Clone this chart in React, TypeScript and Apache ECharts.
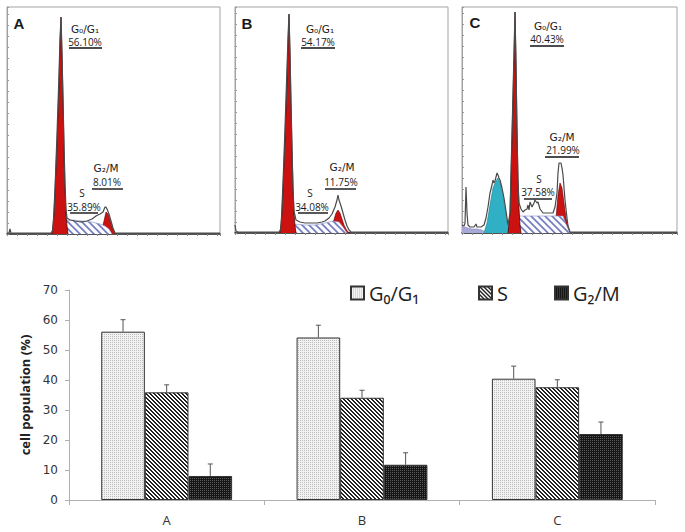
import React, { useEffect, useRef } from "react";
import * as echarts from "echarts";

// ---------- bar chart data ----------
const groups = ["A", "B", "C"];
const phases = ["G₀/G₁", "S", "G₂/M"];
const g1Pct = [56.1, 54.17, 40.43];
const sPct = [35.89, 34.08, 37.58];
const g2mPct = [8.01, 11.75, 21.99];
const g1Err = [4.0, 4.1, 4.2];
const sErr = [2.5, 2.5, 2.5];
const g2mErr = [4.0, 4.0, 4.0];
const yMin = 0;
const yMax = 70;
const yStep = 10;
const yTitle = "cell population (%)";

// ---------- histogram data: [channel, count] ----------
const aTotal = [[0,1],[2,1],[3,5],[4,1],[44,1],[46,4],[48,45],[50,100],[52,160],[53,195],[54,217],[55,180],[56,135],[57,90],[58,50],[59,25],[60,16],[63,14],[68,13],[74,12],[80,13],[85,15],[89,18],[93,20],[96,22],[98,27],[99,27],[100,25],[102,20],[104,13],[106,6],[108,1],[130,1],[213,1]];
const aG1 = [[45,0],[47,20],[50,90],[52,150],[53,190],[54,217],[55,180],[56,135],[57,85],[58,45],[59,20],[60,8],[61,0]];
const aS = [[51,0],[54,10],[57,14],[65,14],[75,13],[85,12],[93,10],[98,8],[102,5],[105,0]];
const aG2 = [[92,0],[95,5],[97,13],[99,22],[101,20],[103,14],[105,7],[107,2],[108,0]];

const bTotal = [[0,8],[1,2],[3,1],[44,1],[46,4],[48,50],[50,105],[52,165],[53,195],[54,219],[55,180],[56,130],[57,85],[58,45],[59,22],[61,13],[65,11],[70,10],[76,10],[82,10],[87,11],[90,12],[94,15],[97,19],[100,26],[102,33],[103,38],[104,33],[106,27],[108,20],[110,13],[112,7],[114,3],[116,1],[130,1],[213,1]];
const bG1 = [[45,0],[47,20],[50,95],[52,155],[53,190],[54,219],[55,180],[56,130],[57,85],[58,45],[59,20],[60,7],[61,0]];
const bS = [[51,0],[54,7],[58,9],[70,8],[80,8],[90,10],[98,12],[104,11],[108,6],[112,0]];
const bG2 = [[95,0],[98,10],[101,20],[103,23],[105,20],[107,14],[109,8],[111,4],[113,1],[115,0]];

const cTotal = [[0,8],[2,7],[3,10],[4,46],[5,20],[6,8],[8,6],[12,6],[14,9],[15,6],[19,6],[22,8],[24,15],[26,26],[28,40],[30,48],[31,53],[32,50],[33,52],[34,56],[35,60],[36,58],[37,55],[38,53],[40,45],[42,35],[44,22],[46,8],[48,20],[50,100],[52,180],[53,221],[54,170],[55,100],[56,50],[57,30],[59,24],[61,21],[63,23],[65,24],[66,28],[67,23],[68,31],[70,26],[72,30],[73,33],[75,30],[76,31],[78,24],[81,20],[86,20],[91,20],[93,26],[95,40],[96,60],[97,70],[99,70],[100,65],[101,58],[103,33],[105,15],[106,7],[108,1],[130,1],[215,1]];
const cG1 = [[46,0],[48,20],[50,95],[52,175],[53,221],[54,170],[55,105],[56,55],[57,25],[58,8],[59,0]];
const cS = [[48,0],[51,9],[55,17],[101,17],[104,9],[108,0]];
const cG2 = [[92,0],[94,15],[96,38],[98,50],[100,45],[102,30],[104,15],[106,6],[108,0]];
const cApop = [[22,0],[25,10],[28,28],[31,45],[34,52],[36,55],[38,50],[41,38],[43,25],[45,12],[47,4],[48,0]];
const cDebris = [[0,6],[3,6],[6,5],[10,4],[15,4],[20,3],[23,1],[25,0]];

// ---------- layout (styles) ----------
const panels = [
  { left: 7, top: 7, w: 213, h: 227, xMax: 213, yMax: 227, label: "A", lx: 19, ly: 23 },
  { left: 235, top: 7, w: 213, h: 226, xMax: 213, yMax: 226, label: "B", lx: 247, ly: 23 },
  { left: 462, top: 7, w: 215, h: 226, xMax: 215, yMax: 226, label: "C", lx: 475, ly: 22 },
];
// [titleX, titleY, pctX, pctY, underlineY, ux1, ux2]
const annG1 = [[85,29,85,41.5,48,69,102],[320,29,318,41.5,48,301,335],[548,26,547,39,46,530,564]];
const annG2 = [[106,168,107,181.5,189,92,123],[342,167,341,181.5,189,325,356],[562,137,563,150,157,545,579]];
const annS = [[82,193,84,207,213,70,98],[310,193,312,207,213,298,328],[539,178.5,538,192,199,524,552]];

function tile(w: number, h: number, draw: (ctx: CanvasRenderingContext2D) => void) {
  const c = document.createElement("canvas");
  c.width = w;
  c.height = h;
  const ctx = c.getContext("2d")!;
  draw(ctx);
  return { image: c, repeat: "repeat", imageWidth: w, imageHeight: h } as any;
}

export default function App() {
  const ref = useRef<HTMLDivElement>(null);
  useEffect(() => {
    if (!ref.current) return;
    const chart = echarts.init(ref.current, null, { renderer: "svg" });

    const lightDots = tile(2, 2, (ctx) => {
      ctx.fillStyle = "#f2f2f2"; ctx.fillRect(0, 0, 2, 2);
      ctx.fillStyle = "#bdbdbd"; ctx.fillRect(0, 0, 1, 1);
    });
    const stripes = tile(4, 4, (ctx) => {
      ctx.fillStyle = "#ffffff"; ctx.fillRect(0, 0, 4, 4);
      ctx.fillStyle = "#222222";
      for (let x = 0; x < 4; x++) for (let y = 0; y < 4; y++) {
        const d = (x - y + 8) % 4;
        if (d === 0 || d === 1) ctx.fillRect(x, y, 1, 1);
      }
    });
    const darkDots = tile(2, 2, (ctx) => {
      ctx.fillStyle = "#161616"; ctx.fillRect(0, 0, 2, 2);
      ctx.fillStyle = "#5a5a5a"; ctx.fillRect(0, 0, 1, 1);
    });
    const blueHatch = tile(7, 7, (ctx) => {
      ctx.fillStyle = "#fbfbff"; ctx.fillRect(0, 0, 7, 7);
      ctx.strokeStyle = "#6f7bbd"; ctx.lineWidth = 1.6;
      for (let k = -1; k <= 1; k++) {
        ctx.beginPath(); ctx.moveTo(k * 7 - 1, -1); ctx.lineTo(k * 7 + 8, 8); ctx.stroke();
      }
    });
    const barPatterns = [lightDots, stripes, darkDots];

    const grids: any[] = panels.map((p) => ({
      left: p.left, top: p.top, width: p.w, height: p.h,
      show: true, borderColor: "#a3a3a3", borderWidth: 1, backgroundColor: "#fff",
    }));
    grids.push({ left: 69, top: 290, width: 586, height: 210 });

    const xAxes: any[] = panels.map((p, i) => ({
      gridIndex: i, type: "value", min: 0, max: p.xMax, interval: 10,
      axisLine: { show: true, lineStyle: { color: "#2a2a2a", width: 1.5 } },
      axisTick: { show: true, inside: false, length: 2, lineStyle: { color: "#888" } },
      axisLabel: { show: false }, splitLine: { show: false },
    }));
    xAxes.push({
      gridIndex: 3, type: "category", data: groups,
      axisLine: { show: true, lineStyle: { color: "#b0b0b0" } },
      axisTick: { show: true, length: 5, lineStyle: { color: "#b0b0b0" } },
      axisLabel: { color: "#333", fontSize: 13, margin: 13, fontFamily: "Open Sans" },
    });
    const yAxes: any[] = panels.map((p, i) => ({
      gridIndex: i, type: "value", min: 0, max: p.yMax, interval: 11,
      axisLine: { show: true, lineStyle: { color: "#a3a3a3" } },
      axisTick: { show: true, inside: true, length: 2, lineStyle: { color: "#999" } },
      axisLabel: { show: false }, splitLine: { show: false },
    }));
    yAxes.push({
      gridIndex: 3, type: "value", min: yMin, max: yMax, interval: yStep,
      name: yTitle, nameLocation: "middle", nameGap: 35,
      nameTextStyle: { fontWeight: "bold", fontSize: 13, color: "#222", fontFamily: "Open Sans" },
      axisLine: { show: true, lineStyle: { color: "#b0b0b0" } },
      axisTick: { show: true, length: 4, lineStyle: { color: "#b0b0b0" } },
      axisLabel: { color: "#333", fontSize: 12, margin: 11, fontFamily: "DejaVu Sans" },
      splitLine: { show: false },
    });

    const area = (gi: number, data: number[][], fill: any, stroke: string, lw: number, z: number) => ({
      type: "line", xAxisIndex: gi, yAxisIndex: gi, data, showSymbol: false, symbol: "none",
      silent: true, z, lineStyle: { color: stroke, width: lw },
      areaStyle: { color: fill, opacity: 1 },
    });
    const outline = (gi: number, data: number[][]) => ({
      type: "line", xAxisIndex: gi, yAxisIndex: gi, data, showSymbol: false, symbol: "none",
      silent: true, z: 10, lineStyle: { color: "#4a4a4a", width: 1.2 },
    });
    const red = "#cc1111";
    const series: any[] = [
      area(0, aG2, red, "#5a0000", 0.6, 3),
      area(0, aS, blueHatch, "#8890c8", 0.6, 4),
      area(0, aG1, red, "#3a0000", 0.7, 5),
      outline(0, aTotal),
      area(1, bG2, red, "#5a0000", 0.6, 3),
      area(1, bS, blueHatch, "#8890c8", 0.6, 4),
      area(1, bG1, red, "#3a0000", 0.7, 5),
      outline(1, bTotal),
      area(2, cDebris, "#a9a9d8", "#8c8cc0", 0.6, 2),
      area(2, cApop, "#2fb0c4", "#1f7f90", 0.6, 3),
      area(2, cG2, red, "#5a0000", 0.6, 3),
      area(2, cS, blueHatch, "#8890c8", 0.6, 4),
      area(2, cG1, red, "#3a0000", 0.7, 5),
      outline(2, cTotal),
    ];

    const vals = [g1Pct, sPct, g2mPct];
    const errs = [g1Err, sErr, g2mErr];
    phases.forEach((name, p) => {
      series.push({
        type: "bar", name, xAxisIndex: 3, yAxisIndex: 3, data: vals[p],
        barGap: "0%", barCategoryGap: "33%",
        itemStyle: { color: barPatterns[p], borderColor: "#333", borderWidth: 1 },
      });
    });
    const errData: number[][] = [];
    vals.forEach((v, p) => v.forEach((val, c) => errData.push([c, val, errs[p][c], p])));
    series.push({
      type: "custom", xAxisIndex: 3, yAxisIndex: 3, data: errData, z: 20, silent: true,
      encode: { x: 0, y: 1 },
      renderItem: (params: any, api: any) => {
        const c = api.value(0), v = api.value(1), e = api.value(2), p = api.value(3);
        const base = api.coord([c, v]);
        const top = api.coord([c, v + e]);
        const band = api.size([1, 0])[0];
        const bw = (band * (1 - 0.33)) / 3;
        const x = base[0] + (p - 1) * bw;
        return {
          type: "group",
          children: [
            { type: "line", shape: { x1: x, y1: base[1], x2: x, y2: top[1] }, style: { stroke: "#555", lineWidth: 1 } },
            { type: "line", shape: { x1: x - 2.5, y1: top[1], x2: x + 2.5, y2: top[1] }, style: { stroke: "#555", lineWidth: 1 } },
          ],
        };
      },
    });

    const legendLefts = [345, 473, 549];
    const legends = phases.map((name, i) => ({
      data: [name], left: legendLefts[i], top: 278, icon: "rect", itemWidth: 13, itemHeight: 13,
      selectedMode: false, itemGap: 6,
      textStyle: { fontSize: 20, color: "#222", fontFamily: "Open Sans" },
    }));

    const graphics: any[] = [];
    const font = '10px "Open Sans"';
    const addText = (text: string, x: number, y: number, f = font) =>
      graphics.push({
        type: "text", x, y, z: 100,
        style: { text, font: f, fill: "#1a1a1a", textAlign: "center", textVerticalAlign: "middle", align: "center", verticalAlign: "middle" },
      });
    const addLine = (x1: number, x2: number, y: number) =>
      graphics.push({ type: "line", z: 100, shape: { x1, y1: y, x2, y2: y }, style: { stroke: "#111", lineWidth: 1.4 } });
    const fmt = (v: number) => v.toFixed(2) + "%";
    panels.forEach((p, i) => {
      addText(p.label, p.lx, p.ly, 'bold 15px "Liberation Sans"');
      const a1 = annG1[i], a2 = annG2[i], a3 = annS[i];
      addText(phases[0], a1[0], a1[1], '10.5px "DejaVu Sans"'); addText(fmt(g1Pct[i]), a1[2], a1[3]); addLine(a1[5], a1[6], a1[4]);
      addText(phases[2], a2[0], a2[1], '10.5px "DejaVu Sans"'); addText(fmt(g2mPct[i]), a2[2], a2[3]); addLine(a2[5], a2[6], a2[4]);
      addText(phases[1], a3[0], a3[1]); addText(fmt(sPct[i]), a3[2], a3[3]); addLine(a3[5], a3[6], a3[4]);
    });

    chart.setOption({
      animation: false,
      backgroundColor: "#fff",
      textStyle: { fontFamily: "Open Sans" },
      grid: grids,
      xAxis: xAxes,
      yAxis: yAxes,
      legend: legends,
      series,
      graphic: graphics,
    });
    return () => chart.dispose();
  }, []);
  return <div ref={ref} style={{ position: "absolute", left: 0, top: 0, width: 685, height: 532 }} />;
}
